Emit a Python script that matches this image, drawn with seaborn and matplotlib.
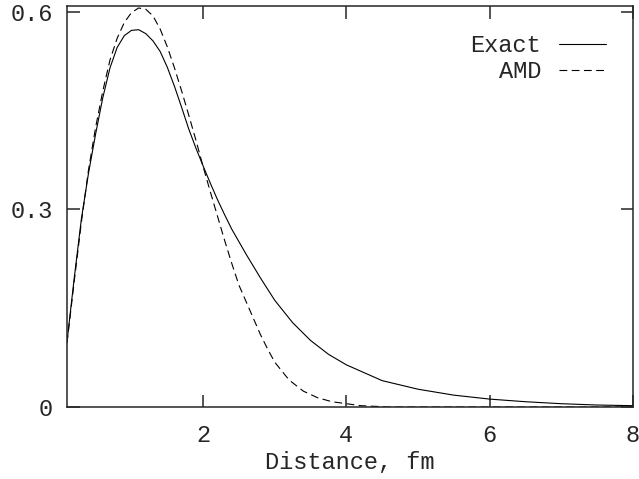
import pandas as pd
import matplotlib
matplotlib.use("Agg")
import matplotlib.pyplot as plt
import seaborn as sns

# 값은 그림에서 읽어낸 추정치
exact_x = [0.1, 0.2, 0.3, 0.4, 0.5, 0.6, 0.7, 0.8, 0.9, 1.0, 1.1, 1.2, 1.3, 1.4,
           1.5, 1.6, 1.7, 1.8, 1.9, 2.0, 2.1, 2.2, 2.3, 2.4, 2.6, 2.8, 3.0, 3.25,
           3.5, 3.75, 4.0, 4.5, 5.0, 5.5, 6.0, 6.5, 7.0, 7.5, 8.0]
exact_y = [0.099, 0.195, 0.285, 0.355, 0.415, 0.470, 0.515, 0.546, 0.564, 0.572,
           0.573, 0.567, 0.556, 0.540, 0.516, 0.487, 0.455, 0.422, 0.393, 0.366,
           0.340, 0.315, 0.292, 0.270, 0.232, 0.196, 0.162, 0.128, 0.101, 0.080,
           0.064, 0.040, 0.027, 0.018, 0.012, 0.008, 0.005, 0.003, 0.002]

amd_x = [0.1, 0.2, 0.3, 0.4, 0.5, 0.6, 0.7, 0.8, 0.9, 1.0, 1.1, 1.2, 1.3, 1.4,
         1.5, 1.6, 1.7, 1.8, 1.9, 2.0, 2.1, 2.2, 2.3, 2.4, 2.5, 2.6, 2.7, 2.8,
         2.9, 3.0, 3.2, 3.4, 3.6, 3.8, 4.0, 4.2, 4.4, 4.6, 5.0, 6.0, 7.0, 8.0]
amd_y = [0.097, 0.190, 0.280, 0.360, 0.425, 0.480, 0.527, 0.560, 0.584, 0.599,
         0.606, 0.604, 0.594, 0.574, 0.547, 0.515, 0.480, 0.443, 0.405, 0.365,
         0.327, 0.290, 0.253, 0.218, 0.185, 0.160, 0.135, 0.110, 0.088, 0.068,
         0.041, 0.024, 0.014, 0.008, 0.005, 0.002, 0.001, 0.0, 0.0, 0.0, 0.0, 0.0]

x_ticks = [2, 4, 6, 8]
y_ticks = [0, 0.3, 0.6]
y_tick_labels = ["0", "0.3", "0.6"]

df = pd.concat([
    pd.DataFrame({"x": exact_x, "y": exact_y, "curve": "Exact"}),
    pd.DataFrame({"x": amd_x, "y": amd_y, "curve": "AMD"}),
], ignore_index=True)

sns.set_style("ticks")
plt.rcParams["font.family"] = ["Liberation Mono", "DejaVu Sans Mono"]
plt.rcParams["axes.linewidth"] = 1.1

fig = plt.figure(figsize=(6.39, 4.79), dpi=100)
ax = fig.add_axes([67 / 639, 72 / 479, 566 / 639, 401 / 479])

sns.lineplot(data=df, x="x", y="y", style="curve", style_order=["Exact", "AMD"],
             dashes={"Exact": "", "AMD": (7, 4)}, color="black", linewidth=0.8,
             estimator=None, sort=False, ax=ax)

ax.set_xlim(0.1, 8)
ax.set_ylim(0, 0.609)
ax.set_xticks(x_ticks)
ax.set_yticks(y_ticks)
ax.set_yticklabels(y_tick_labels)
ax.tick_params(direction="in", length=9, width=1.1, top=True, right=True,
               labelsize=17)
ax.tick_params(axis="x", pad=12)
ax.tick_params(axis="y", pad=10)
ax.set_xlabel("Distance, fm", fontsize=17, labelpad=3)
ax.set_ylabel("")

ax.legend(loc="upper right", bbox_to_anchor=(0.952, 0.93), frameon=False,
          markerfirst=False, fontsize=17, handlelength=2.0, handletextpad=0.75,
          labelspacing=0.12, borderpad=0, borderaxespad=0)

fig.savefig("out.png", dpi=100)
